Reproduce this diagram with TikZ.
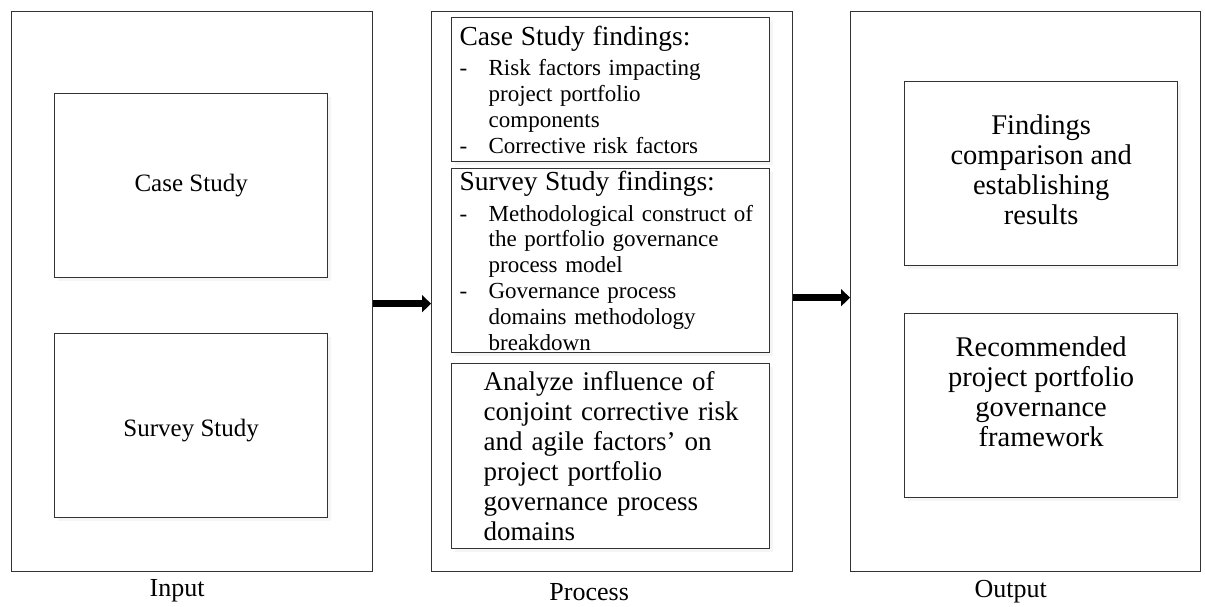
\documentclass[tikz,border=0pt]{standalone}
\usepackage{fontspec}
\setmainfont{Liberation Serif}
\usepackage{xcolor}
\usepackage{tikz}
\usetikzlibrary{arrows.meta,positioning,shadows}
\definecolor{edge}{HTML}{333333}
\newcommand{\findhead}[1]{{\fontsize{27.5}{28}\selectfont #1}}
\newcommand{\dashmark}{\makebox[29pt][l]{-}}
\newcommand{\hang}{\hspace*{29pt}}
\newcommand{\lines}[1]{\begin{tabular}{@{}c@{}}#1\end{tabular}}
\newcommand{\shiftup}[2]{\raisebox{#1}[\height][\depth]{#2}}

\begin{document}
\begin{tikzpicture}[x=1pt,y=-1pt,>=Latex,
  panel/.style={draw=edge,line width=1.3pt,anchor=north west,inner sep=0pt,
    minimum width=361pt,minimum height=560pt},
  studybox/.style={draw=edge,line width=1.3pt,fill=white,anchor=north west,
    minimum width=273pt,minimum height=184pt,align=center,
    font=\fontsize{25}{28}\selectfont,
    drop shadow={shadow xshift=3pt,shadow yshift=-3pt,opacity=.08}},
  findbox/.style={draw=edge,line width=1.3pt,fill=white,anchor=north west,
    minimum width=318pt,text width=302pt,inner xsep=8pt,inner ysep=2pt,align=left,
    font=\fontsize{23}{25.8}\selectfont,
    drop shadow={shadow xshift=3pt,shadow yshift=-3pt,opacity=.08}},
  resultbox/.style={studybox,font=\fontsize{28.5}{30}\selectfont},
  caption/.style={font=\fontsize{26}{28}\selectfont},
  bigarrow/.style={draw=black,line width=7pt,-{Triangle[length=9pt,width=17pt]}}]
  \useasboundingbox (0,0) rectangle (1205,607);
  % the three stages
  \node[panel] (input) at (11,11) {};
  \node[panel] (process) at (431,11) {};
  \node[panel,minimum width=350pt] (output) at (850,11) {};
  % input
  \node[studybox] (case) at (54,93) {Case Study};
  \node[studybox] (survey) at (54,333) {\shiftup{-5pt}{Survey Study}};
  % process
  \node[findbox,minimum height=144pt] (casefind) at (451,17) {%
    \findhead{Case Study findings:}\\[5pt]
    \dashmark Risk factors impacting\\
    \hang project portfolio\\
    \hang components\\
    \dashmark Corrective risk factors};
  \node[findbox,minimum height=184pt] (surveyfind) at (451,168) {%
    \findhead{Survey Study findings:}\\[5pt]
    \dashmark Methodological construct of\\
    \hang the portfolio governance\\
    \hang process model\\
    \dashmark Governance process\\
    \hang domains methodology\\
    \hang breakdown};
  \node[findbox,minimum height=185pt,text width=286pt,inner xsep=16pt,
    font=\fontsize{27}{30}\selectfont] (analyze) at (451,363) {%
    \hspace*{16pt}\parbox{270pt}{Analyze influence of\\ conjoint corrective risk\\ and agile factors' on\\ project portfolio\\ governance process\\ domains}};
  % output
  \node[resultbox] (compare) at (904,81) {\lines{Findings\\ comparison and\\ establishing\\ results}};
  \node[resultbox] (framework) at (904,313) {\shiftup{10pt}{\lines{Recommended\\ project portfolio\\ governance\\ framework}}};
  % captions
  \node[caption,below=4pt of input.south,xshift=-15pt] (inlabel) {Input};
  \node[caption,below=8pt of process.south,xshift=-23pt] (proclabel) {Process};
  \node[caption,below=4pt of output.south,xshift=-15pt] (outlabel) {Output};
  % arrows
  \draw[bigarrow] ([yshift=-12pt]input.east) -- ([yshift=-12pt]process.west);
  \draw[bigarrow] ([yshift=-6pt]process.east) -- ([yshift=-6pt]output.west);
\end{tikzpicture}
\end{document}
